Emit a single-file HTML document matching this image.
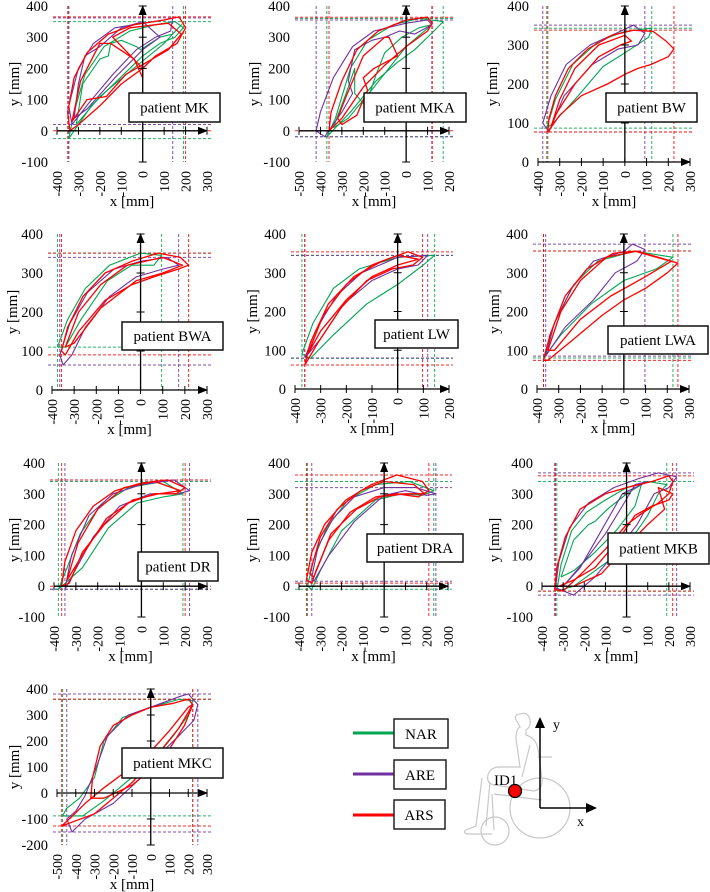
<!DOCTYPE html>
<html><head><meta charset="utf-8">
<style>
html,body{margin:0;padding:0;background:#fff;}
svg{display:block;font-family:"Liberation Serif",serif;}
</style></head>
<body>
<svg id="fig" width="710" height="892" viewBox="0 0 710 892" xmlns="http://www.w3.org/2000/svg">
<g id="panels"></g>
<g id="legend">
  <line x1="353" y1="733" x2="395" y2="733" stroke="#00a651" stroke-width="3"/>
  <rect x="394" y="719" width="54" height="29" fill="#fff" stroke="#222" stroke-width="1.5"/>
  <text x="421" y="739" font-size="15" text-anchor="middle">NAR</text>
  <line x1="353" y1="774" x2="395" y2="774" stroke="#7030a0" stroke-width="3"/>
  <rect x="394" y="760" width="52" height="29" fill="#fff" stroke="#222" stroke-width="1.5"/>
  <text x="420" y="780" font-size="15" text-anchor="middle">ARE</text>
  <line x1="353" y1="815" x2="395" y2="815" stroke="#f00" stroke-width="3"/>
  <rect x="394" y="800" width="51" height="29" fill="#fff" stroke="#222" stroke-width="1.5"/>
  <text x="419" y="820" font-size="15" text-anchor="middle">ARS</text>
</g>
<g id="wheelchair" fill="none" stroke="#c8c8c8" stroke-width="1.2">
  <circle cx="540" cy="808" r="30"/>
  <circle cx="495" cy="831" r="14"/>
  <path d="M520 714 q8 -3 10 6 q1 7 -4 10 l0 5 q10 3 12 14 l4 30 q1 10 -8 12 l-40 -6 q-8 -2 -6 -10 q2 -8 12 -8 l20 0 l-4 -28 q0 -10 4 -12 l-2 -4 q-6 -8 2 -9 z"/>
  <path d="M482 778 l-6 48 l-10 4 q-4 3 2 4 l24 0 M490 782 l-4 44"/>
  <path d="M530 745 l-8 32 M538 757 l14 0 M542 800 l-48 -6 M492 794 l2 36"/>
</g>
<g id="coord">
  <line x1="540" y1="808" x2="540" y2="726" stroke="#000" stroke-width="1.5"/>
  <polygon points="535,728 545,728 540,717" fill="#000"/>
  <line x1="540" y1="808" x2="588" y2="808" stroke="#000" stroke-width="1.5"/>
  <polygon points="586,803 586,813 597,808" fill="#000"/>
  <text x="553" y="729" font-size="14">y</text>
  <text x="577" y="826" font-size="14">x</text>
  <circle cx="515" cy="791" r="6.5" fill="#f00" stroke="#000" stroke-width="1.3"/>
  <text x="494" y="785" font-size="15">ID1</text>
</g>
</svg>
<script>
// ---- tick label arrays ----
const xTicksA = [-400,-300,-200,-100,0,100,200,300];
const xTicksMKA = [-500,-400,-300,-200,-100,0,100,200];
const xTicksLW = [-400,-300,-200,-100,0,100,200];
const xTicksMKC = [-500,-400,-300,-200,-100,0,100,200,300];
const yTicksA = [400,300,200,100,0,-100];
const yTicksB = [400,300,200,100,0];
const yTicksC = [400,300,200,100,0,-100,-200];

// ---- series data (x, y in mm), each series = list of loops ----
const mkRed = [[-340,0,-350,60,-320,170,-260,250,-160,310,-40,340,100,355,170,365,200,330,160,280,60,240,0,200,-100,150,-200,80,-300,20,-340,0],
 [-330,30,-290,160,-200,280,-150,280,-40,230,0,170,0,200,-140,300,-60,330,120,345,180,310,120,260,-80,180,-170,110,-260,100,-300,60,-330,30]];
const mkPurple = [[-330,20,-345,80,-300,200,-230,280,-130,330,0,345,100,355,140,362,130,320,60,300,-30,260,-140,180,-250,90,-330,20],
 [-320,40,-300,150,-270,240,-200,270,-100,330,0,350,80,300,0,260,-130,170,-260,70,-320,40]];
const mkGreen = [[-345,-25,-320,60,-270,180,-180,270,-60,320,60,340,150,350,190,330,150,300,80,280,0,240,-120,160,-240,80,-345,-25],
 [-310,20,-280,150,-200,230,-160,240,-150,280,-100,290,-30,270,-10,260,80,300,140,310,180,340,100,280,-60,190,-200,110,-310,20]];

const mkaRed = [[-360,0,-350,60,-300,160,-230,260,-130,320,0,355,100,364,122,345,100,320,0,270,-100,210,-200,140,-300,40,-360,0],
 [-320,40,-280,110,-200,240,-100,300,-80,300,-40,240,-150,200,-200,170,-180,130,-200,100,-230,50,-300,20,-320,40]];
const mkaPurple = [[-420,0,-400,60,-340,170,-250,270,-150,320,0,345,100,355,120,340,40,310,-30,320,-100,300,-160,290,-240,260,-270,160,-250,120,-300,60,-380,-19,-420,0]];
const mkaGreen = [[-370,-19,-330,40,-260,200,-180,290,-60,340,60,360,173,350,130,320,40,260,-40,220,-140,160,-260,60,-370,-19],
 [-340,10,-280,120,-240,200,-240,120,-190,80,-140,180,-100,250,-20,300,60,330,120,340,0,270,-150,140,-270,40,-340,10]];

const bwRed = [[-355,77,-350,110,-320,170,-260,240,-170,290,-60,325,40,338,130,335,190,310,226,290,200,270,120,250,60,240,0,225,-80,200,-200,170,-300,120,-355,77],
 [-340,90,-300,160,-230,240,-120,300,0,325,30,310,-20,300,-120,270,-230,200,-320,120,-340,90]];
const bwPurple = [[-378,100,-340,170,-270,250,-160,300,-40,330,40,351,92,330,60,300,-30,290,-150,250,-280,170,-350,77,-378,100]];
const bwGreen = [[-360,87,-320,160,-240,250,-120,310,0,335,124,343,110,320,0,280,-100,245,-230,160,-330,100,-360,87]];

const bwaRed = [[-357,100,-330,160,-260,240,-160,300,-40,330,80,351,180,340,217,320,170,310,60,290,-40,270,-160,230,-280,150,-340,90,-357,100],
 [-340,110,-280,200,-180,270,-60,320,100,340,190,320,100,300,-20,280,-180,210,-300,120,-340,110]];
const bwaPurple = [[-365,90,-320,170,-240,250,-120,310,0,330,120,340,172,320,100,310,-20,290,-140,240,-250,160,-310,90,-350,64,-365,90]];
const bwaGreen = [[-375,110,-330,180,-250,260,-140,320,0,351,95,345,60,320,-40,320,-150,280,-270,180,-340,110,-375,110]];

const lwRed = [[-362,62,-340,120,-270,220,-170,290,-60,330,40,354,97,340,60,320,-20,310,-120,280,-220,210,-310,120,-362,62],
 [-350,90,-290,190,-200,270,-100,320,0,345,80,335,0,320,-100,290,-200,230,-300,150,-350,90]];
const lwPurple = [[-362,80,-320,150,-240,240,-140,300,0,340,117,345,80,320,0,310,-100,280,-210,220,-300,130,-362,80]];
const lwGreen = [[-373,90,-330,170,-250,260,-150,310,0,340,144,345,100,320,0,270,-120,220,-250,140,-340,79,-373,90]];

const lwaRed = [[-370,74,-340,140,-270,240,-170,310,-50,350,50,356,150,340,249,325,200,300,100,260,0,230,-100,190,-250,120,-350,74,-370,74],
 [-350,100,-290,200,-200,280,-80,340,60,356,220,330,100,290,-60,240,-200,180,-320,100,-350,100]];
const lwaPurple = [[-360,85,-320,170,-240,260,-140,330,0,355,40,374,97,360,60,330,-40,300,-140,230,-270,160,-360,85]];
const lwaGreen = [[-370,80,-320,170,-230,270,-120,330,50,356,226,340,150,310,0,280,-150,220,-290,140,-370,80]];

const drRed = [[-365,0,-350,80,-300,180,-220,260,-120,310,0,335,120,345,200,320,160,300,60,300,-60,270,-170,200,-270,110,-330,10,-365,0],
 [-340,20,-290,140,-200,250,-80,320,60,340,180,310,80,300,-40,280,-160,220,-280,90,-340,20]];
const drPurple = [[-350,-10,-320,100,-240,230,-130,300,0,330,150,345,220,310,170,300,40,300,-100,260,-220,160,-320,30,-350,-10]];
const drGreen = [[-380,-10,-340,60,-280,170,-190,260,-60,320,100,340,190,300,100,290,-20,270,-150,190,-270,60,-380,-10]];

const draRed = [[-365,20,-340,110,-280,200,-180,280,-60,330,60,361,180,340,210,310,160,290,60,300,-40,290,-160,240,-260,150,-320,50,-340,10,-365,20],
 [-350,40,-300,160,-220,250,-110,310,0,340,140,330,190,300,100,300,-20,290,-130,250,-250,170,-330,30,-350,40]];
const draPurple = [[-340,30,-310,130,-240,220,-140,290,0,320,150,320,243,300,200,295,100,310,0,295,-140,210,-260,100,-330,16,-340,30]];
const draGreen = [[-360,0,-330,90,-270,190,-170,280,-40,330,120,340,233,310,180,295,80,300,-40,280,-200,180,-300,50,-340,-10,-360,0]];

const mkbRed = [[-340,-10,-330,60,-290,160,-220,250,-100,300,0,320,120,340,200,358,218,340,200,300,150,270,80,240,0,200,-100,120,-200,50,-300,-16,-340,-10],
 [-320,0,-250,20,-150,60,-50,140,40,230,120,260,200,280,218,300,150,320,180,250,100,200,0,130,-120,40,-250,0,-320,0]];
const mkbPurple = [[-336,-5,-320,80,-270,190,-180,270,-60,320,60,350,150,368,237,355,200,320,130,300,50,200,-40,120,-150,30,-250,-29,-336,-5],
 [-300,0,-200,80,-100,170,-20,260,40,330,100,340,-20,300,-120,180,-220,60,-300,0]];
const mkbGreen = [[-330,-16,-310,70,-260,180,-190,240,-100,280,0,320,100,340,190,330,150,300,100,230,50,180,-50,100,-150,50,-250,0,-330,-16],
 [-310,30,-250,150,-180,200,-150,210,-90,250,0,300,70,330,40,260,-50,180,-150,110,-250,50,-310,30]];

const mkcRed = [[-320,-20,-310,60,-270,180,-200,260,-100,300,0,330,120,345,200,361,224,340,180,260,100,170,0,90,-100,30,-250,-20,-320,-20],
 [-475,-127,-420,-90,-350,-40,-250,20,-100,100,0,160,100,240,200,330,224,340,150,250,50,160,-100,40,-300,-80,-475,-127]];
const mkcPurple = [[-448,-100,-400,-70,-350,-10,-290,100,-230,220,-120,300,0,330,150,370,200,381,251,340,230,280,150,220,50,150,-50,60,-200,-40,-350,-100,-420,-150,-448,-100]];
const mkcGreen = [[-470,-88,-450,-60,-380,-20,-300,60,-250,200,-150,290,0,330,150,360,224,355,200,300,120,220,20,130,-100,60,-250,-30,-363,-88,-470,-88]];

const COLORS = {green:'#00a651', purple:'#7030a0', red:'#ff0000'};

const panels = [
 {id:'mk', label:'patient MK', xt:xTicksA, yt:yTicksA, px:[57,207], py:[6,162], box:[129,93,91,29], ytx:14, red:mkRed, purple:mkPurple, green:mkGreen},
 {id:'mka', label:'patient MKA', xt:xTicksMKA, yt:yTicksA, px:[299,449], py:[6,162], box:[364,93,102,29], ytx:254, red:mkaRed, purple:mkaPurple, green:mkaGreen},
 {id:'bw', label:'patient BW', xt:xTicksA, yt:yTicksB, px:[538,690], py:[6,162], box:[606,93,91,29], ytx:492, red:bwRed, purple:bwPurple, green:bwGreen},
 {id:'bwa', label:'patient BWA', xt:xTicksA, yt:yTicksB, px:[52,207], py:[234,390], box:[122,322,101,28], ytx:12, red:bwaRed, purple:bwaPurple, green:bwaGreen},
 {id:'lw', label:'patient LW', xt:xTicksLW, yt:yTicksB, px:[295,449], py:[234,389], box:[375,320,83,28], ytx:252, red:lwRed, purple:lwPurple, green:lwGreen},
 {id:'lwa', label:'patient LWA', xt:xTicksA, yt:yTicksB, px:[537,689], py:[234,389], box:[608,326,100,28], ytx:494, red:lwaRed, purple:lwaPurple, green:lwaGreen},
 {id:'dr', label:'patient DR', xt:xTicksA, yt:yTicksA, px:[54,207], py:[463,617], box:[138,552,80,29], ytx:14, red:drRed, purple:drPurple, green:drGreen},
 {id:'dra', label:'patient DRA', xt:xTicksA, yt:yTicksA, px:[299,448], py:[463,617], box:[367,534,96,28], ytx:252, red:draRed, purple:draPurple, green:draGreen},
 {id:'mkb', label:'patient MKB', xt:xTicksA, yt:yTicksA, px:[542,690], py:[463,617], box:[608,533,101,31], ytx:494, red:mkbRed, purple:mkbPurple, green:mkbGreen},
 {id:'mkc', label:'patient MKC', xt:xTicksMKC, yt:yTicksC, px:[57,207], py:[689,845], box:[122,748,101,30], ytx:14, red:mkcRed, purple:mkcPurple, green:mkcGreen}
];

const NS = 'http://www.w3.org/2000/svg';
function mk(tag, attrs, parent){
  const e = document.createElementNS(NS, tag);
  for (const k in attrs) e.setAttribute(k, attrs[k]);
  parent.appendChild(e);
  return e;
}
const root = document.getElementById('panels');

panels.forEach(function(p){
  const g = mk('g', {}, root);
  
  
  const xmin = p.xt[0], xmax = p.xt[p.xt.length-1];
  const ymax = p.yt[0], ymin = p.yt[p.yt.length-1];
  const sx = function(v){ return p.px[0] + (v - xmin) / (xmax - xmin) * (p.px[1] - p.px[0]); };
  const sy = function(v){ return p.py[0] + (ymax - v) / (ymax - ymin) * (p.py[1] - p.py[0]); };
  const order = ['green','purple','red'];
  order.forEach(function(c){
    let ax = Infinity, bx = -Infinity, ay = Infinity, by = -Infinity;
    p[c].forEach(function(loop){
      for (let i = 0; i < loop.length; i += 2){
        ax = Math.min(ax, loop[i]); bx = Math.max(bx, loop[i]);
        ay = Math.min(ay, loop[i+1]); by = Math.max(by, loop[i+1]);
      }
    });
    [ax, bx].forEach(function(v){
      const l = mk('line', {x1:sx(v), x2:sx(v), y1:p.py[0], y2:p.py[1], stroke:COLORS[c], 'stroke-width':1, 'stroke-dasharray':'3,2', opacity:0.85}, g);
      
      
    });
    [ay, by].forEach(function(v){
      const l = mk('line', {x1:p.px[0]-4, x2:p.px[1]+4, y1:sy(v), y2:sy(v), stroke:COLORS[c], 'stroke-width':1, 'stroke-dasharray':'3,2', opacity:0.85}, g);
      
      
    });
  });
  order.forEach(function(c){
    p[c].forEach(function(loop, li){
      let pts = [];
      for (let i = 0; i < loop.length; i += 2) pts.push(sx(loop[i]).toFixed(1) + ',' + sy(loop[i+1]).toFixed(1));
      const pl = mk('polyline', {points:pts.join(' '), fill:'none', stroke:COLORS[c], 'stroke-width': c === 'red' ? 1.3 : 1.1, 'stroke-linejoin':'round'}, g);
      
      
    });
  });
  const x0 = sx(0), y0 = sy(0);
  const xa = mk('line', {x1:p.px[0], x2:p.px[1], y1:y0, y2:y0, stroke:'#000', 'stroke-width':1.3}, g);
  
  
  const xh = mk('polygon', {points:(p.px[1]-9)+','+(y0-4)+' '+(p.px[1]-9)+','+(y0+4)+' '+(p.px[1]+1)+','+y0, fill:'#000'}, g);
  
  
  const ya = mk('line', {x1:x0, x2:x0, y1:p.py[0], y2:p.py[1], stroke:'#000', 'stroke-width':1.3}, g);
  
  
  const yh = mk('polygon', {points:(x0-4)+','+(p.py[0]+9)+' '+(x0+4)+','+(p.py[0]+9)+' '+x0+','+(p.py[0]-1), fill:'#000'}, g);
  
  
  p.xt.forEach(function(v){
    const t = mk('line', {x1:sx(v), x2:sx(v), y1:y0-4, y2:y0+4, stroke:'#000', 'stroke-width':1}, g);
    
    
    const tx = mk('text', {x:0, y:0, 'font-size':14, 'text-anchor':'end', transform:'translate(' + (sx(v)+5) + ',' + (p.py[1]+9) + ') rotate(-90)'}, g);
    tx.textContent = v;
    
    
  });
  p.yt.forEach(function(v){
    const t = mk('line', {x1:x0-4, x2:x0+4, y1:sy(v), y2:sy(v), stroke:'#000', 'stroke-width':1}, g);
    
    
    const ty = mk('text', {x:p.px[0]-9, y:sy(v)+5, 'font-size':14.5, 'text-anchor':'end'}, g);
    ty.textContent = v;
    
    
  });
  const yt = mk('text', {x:0, y:0, 'font-size':15, 'text-anchor':'middle', transform:'translate(' + (p.ytx+5) + ',' + ((p.py[0]+p.py[1])/2) + ') rotate(-90)'}, g);
  yt.textContent = 'y [mm]';
  
  
  const xtl = mk('text', {x:(p.px[0]+p.px[1])/2, y:p.py[1]+44, 'font-size':15, 'text-anchor':'middle'}, g);
  xtl.textContent = 'x [mm]';
  
  
  const b = mk('rect', {x:p.box[0], y:p.box[1], width:p.box[2], height:p.box[3], fill:'#fff', stroke:'#111', 'stroke-width':1.5}, g);
  
  
  const bt = mk('text', {x:p.box[0]+p.box[2]/2, y:p.box[1]+p.box[3]/2+5, 'font-size':15, 'text-anchor':'middle'}, g);
  bt.textContent = p.label;
  
  
});
</script>
</body></html>
